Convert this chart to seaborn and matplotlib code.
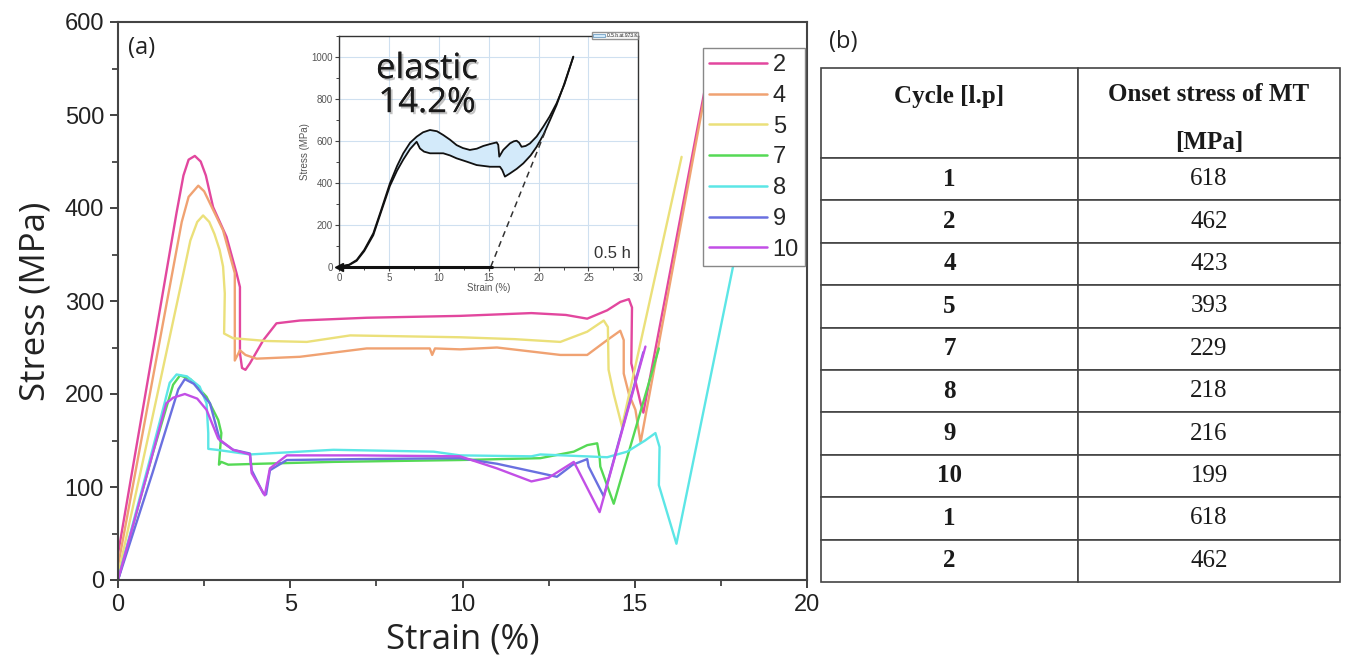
import numpy as np
import pandas as pd
import matplotlib
matplotlib.use('Agg')
import matplotlib.pyplot as plt
import seaborn as sns
from matplotlib.ticker import MultipleLocator
from matplotlib.patches import Patch
import matplotlib.patheffects as pe

# ---------------- data: main chart (a) ----------------
cycles = ['2', '4', '5', '7', '8', '9', '10']

strain_c2 = [0, 1.0, 1.7, 1.9, 2.05, 2.23, 2.4, 2.55, 2.76, 3.15, 3.44, 3.54, 3.54, 3.6, 3.7, 3.83,
             4.22, 4.6, 5.28, 7.22, 9.93, 12.0, 13.0, 13.62, 14.2, 14.58, 14.83, 14.92, 14.9, 15.17,
             15.25, 17.2]
stress_c2 = [28, 244, 395, 435, 452, 456, 450, 435, 401, 369, 330, 315, 244, 228, 226, 233,
             258, 276, 279, 282, 284, 287, 285, 281, 290, 299, 302, 293, 233, 190,
             180, 560]

strain_c4 = [0, 1.0, 1.85, 2.05, 2.33, 2.5, 2.67, 3.05, 3.39, 3.39, 3.54, 3.7, 4.02, 5.28, 7.22,
             9.05, 9.12, 9.2, 9.93, 11.0, 12.84, 13.62, 14.2, 14.58, 14.68, 14.68, 14.83, 15.02,
             15.17, 17.2]
stress_c4 = [15, 215, 385, 412, 424, 418, 405, 376, 330, 236, 247, 242, 238, 240, 249,
             249, 242, 249, 248, 250, 242, 242, 258, 268, 258, 222, 200, 183,
             148, 555]

strain_c5 = [0, 1.0, 1.9, 2.1, 2.3, 2.47, 2.65, 2.8, 2.95, 3.05, 3.1, 3.08, 3.34, 4.31, 5.48, 6.74,
             9.93, 11.5, 12.84, 13.62, 14.1, 14.22, 14.24, 14.39, 14.63, 16.36]
stress_c5 = [5, 175, 330, 365, 385, 392, 385, 372, 355, 337, 308, 265, 260, 257, 256, 263,
             261, 259, 256, 267, 279, 272, 226, 200, 165, 455]

strain_c7 = [0, 1.0, 1.4, 1.6, 1.8, 2.1, 2.57, 2.91, 3.0, 2.93, 3.0, 3.2, 4.12, 6.25, 9.93, 12.26,
             13.23, 13.62, 13.91, 13.98, 14.0, 14.39, 15.7]
stress_c7 = [0, 135, 185, 210, 220, 216, 197, 172, 158, 124, 127, 124, 125, 127, 129, 131,
             138, 145, 147, 132, 122, 82, 249]

strain_c8 = [0, 1.0, 1.35, 1.5, 1.7, 2.0, 2.37, 2.57, 2.62, 2.62, 2.86, 3.83, 6.25, 9.16, 9.93,
             12.0, 12.26, 14.2, 14.78, 15.3, 15.6, 15.72, 15.7, 16.21, 18.2]
stress_c8 = [0, 140, 190, 212, 221, 219, 208, 190, 158, 141, 140, 135, 140, 138, 134,
             133, 135, 132, 138, 150, 158, 143, 102, 39, 400]

strain_c9 = [0, 1.0, 1.5, 1.75, 1.94, 2.2, 2.67, 2.96, 3.34, 3.83, 3.88, 4.22, 4.3, 4.41, 4.9, 7.0,
             9.93, 11.0, 12.0, 12.74, 13.2, 13.62, 13.66, 14.1, 15.25]
stress_c9 = [0, 115, 175, 205, 216, 211, 190, 150, 140, 136, 118, 93, 92, 118, 129, 130,
             131, 125, 117, 111, 124, 130, 122, 90, 245]

strain_c10 = [0, 1.0, 1.4, 1.6, 1.94, 2.3, 2.57, 2.91, 3.34, 3.83, 3.88, 4.26, 4.41, 4.9, 7.0,
              9.93, 11.0, 12.0, 12.5, 13.23, 13.33, 13.98, 15.31]
stress_c10 = [0, 135, 190, 196, 200, 195, 183, 152, 140, 135, 115, 91, 120, 134, 134,
              133, 120, 106, 110, 127, 120, 73, 251]

strains = [strain_c2, strain_c4, strain_c5, strain_c7, strain_c8, strain_c9, strain_c10]
stresses = [stress_c2, stress_c4, stress_c5, stress_c7, stress_c8, stress_c9, stress_c10]

colors = ['#e2479e', '#f0a272', '#ebe07a', '#55d955', '#5ce6e6', '#6a70e0', '#c24fe6']

# ---------------- data: inset ----------------
inset_up_x = [0, 1, 1.74, 2.5, 3.41, 4.2, 5.08, 5.8, 6.42, 7.1, 7.76, 8.4, 9.1, 9.8, 10.43, 11.1,
              11.77, 12.4, 13.1, 13.8, 14.45, 15.2, 15.79, 15.95, 16.05, 16.45, 17.12, 17.5, 17.79,
              18.05, 18.29, 18.7, 19.13, 19.8, 20.47, 21.1, 21.8, 22.6, 23.48]
inset_up_y = [0, 10, 32, 80, 159, 270, 397, 480, 540, 590, 619, 640, 651, 645, 627, 605,
              579, 565, 556, 562, 575, 585, 592, 580, 524, 556, 587, 597, 600,
              590, 571, 575, 587, 620, 667, 715, 778, 870, 1000]
inset_lo_x = [0, 1, 1.74, 2.5, 3.41, 4.2, 5.08, 5.8, 6.42, 7.1, 7.76, 8.09, 8.5, 9.1, 10.43, 11.1,
              11.77, 12.8, 13.78, 15.12, 16.12, 16.35, 16.62, 17.12, 17.8, 18.46, 19.2, 19.8, 20.5,
              21.14, 21.8, 22.47, 23.48]
inset_lo_y = [0, 8, 28, 74, 150, 262, 385, 458, 510, 560, 595, 563, 548, 540, 540, 530, 516,
              500, 484, 476, 476, 460, 429, 444, 466, 492, 530, 571, 630, 698,
              770, 857, 1000]
inset_dash_x = [15.2, 20.8]
inset_dash_y = [0, 660]
inset_base_x = [0, 15.3]
inset_base_y = [0, 0]

# ---------------- data: table (b) ----------------
table_header = ['Cycle [l.p]', 'Onset stress of MT\n[MPa]']
table_cycles = ['1', '2', '4', '5', '7', '8', '9', '10', '1', '2']
table_onset = ['618', '462', '423', '393', '229', '218', '216', '199', '618', '462']

# ---------------- figure ----------------
sns.set_style('white')
plt.rcParams['font.family'] = ['Liberation Sans', 'DejaVu Sans']

W, H = 1346, 657
fig = plt.figure(figsize=(W / 100, H / 100), dpi=100)
fig.patch.set_facecolor('white')


def box(x0, y0, x1, y1):
    return [x0 / W, 1 - y1 / H, (x1 - x0) / W, (y1 - y0) / H]


ax = fig.add_axes(box(118, 22, 807, 580))
frames = [pd.DataFrame({'Strain': xs, 'Stress': ys, 'Cycle': c})
          for c, xs, ys in zip(cycles, strains, stresses)]
df = pd.concat(frames, ignore_index=True)
sns.lineplot(data=df, x='Strain', y='Stress', hue='Cycle', hue_order=cycles,
             palette=dict(zip(cycles, colors)), sort=False, estimator=None,
             lw=1.7, ax=ax)

ax.set_xlim(0, 20)
ax.set_ylim(0, 600)
ax.xaxis.set_major_locator(MultipleLocator(5))
ax.xaxis.set_minor_locator(MultipleLocator(2.5))
ax.yaxis.set_major_locator(MultipleLocator(100))
ax.yaxis.set_minor_locator(MultipleLocator(50))
ax.tick_params(which='both', bottom=True, left=True, top=False, right=False, direction='out')
ax.tick_params(which='major', length=6, width=1.3, color='#333', labelcolor='#222',
               labelsize=17, pad=4)
ax.tick_params(which='minor', length=4, width=1.2, color='#333')
for s in ax.spines.values():
    s.set_color('#444')
    s.set_linewidth(1.5)
ax.set_xlabel('Strain (%)', fontsize=25, family='Open Sans', color='#222', labelpad=5)
ax.set_ylabel('Stress (MPa)', fontsize=25, family='Open Sans', color='#222', labelpad=9)
ax.text(0.0145, 0.953, '(a)', transform=ax.transAxes, fontsize=17, family='Open Sans',
        va='center', ha='left', color='#222')

leg = ax.get_legend()
handles = leg.legend_handles
labels = [t.get_text() for t in leg.get_texts()]
leg.remove()
lg = ax.legend(handles, labels, loc='upper left', bbox_to_anchor=(0.849, 0.953),
               frameon=True, fancybox=False, edgecolor='#888', framealpha=1,
               prop={'family': 'Liberation Sans', 'size': 17}, handlelength=2.45,
               handletextpad=0.25, labelspacing=0.37, borderpad=0.25, borderaxespad=0)
for h in lg.legend_handles:
    h.set_linewidth(1.8)
lg.get_frame().set_linewidth(1.0)

# ---------------- inset ----------------
axi = fig.add_axes(box(339.3, 35.7, 638.3, 266.7))
axi.fill(np.r_[inset_up_x, inset_lo_x[::-1]], np.r_[inset_up_y, inset_lo_y[::-1]],
         color='#d3eafa', lw=0, zorder=1)
sns.lineplot(x=inset_up_x, y=inset_up_y, sort=False, estimator=None, color='#111', lw=1.3,
             ax=axi, zorder=3)
sns.lineplot(x=inset_lo_x, y=inset_lo_y, sort=False, estimator=None, color='#111', lw=1.3,
             ax=axi, zorder=3)
sns.lineplot(x=inset_dash_x, y=inset_dash_y, sort=False, estimator=None, color='#333', lw=1.1,
             ls=(0, (4, 3)), ax=axi, zorder=3)
axi.plot(inset_base_x, inset_base_y, color='#111', lw=2.2, clip_on=False, zorder=4)
axi.plot([inset_base_x[0]], [inset_base_y[0]], marker='<', color='#111', ms=6, clip_on=False,
         zorder=5)
axi.set_xlim(0, 30)
axi.set_ylim(0, 1100)
axi.xaxis.set_major_locator(MultipleLocator(5))
axi.xaxis.set_minor_locator(MultipleLocator(2.5))
axi.yaxis.set_major_locator(MultipleLocator(200))
axi.yaxis.set_minor_locator(MultipleLocator(100))
axi.tick_params(which='both', bottom=True, left=True, direction='out', color='#444')
axi.tick_params(which='major', length=3, width=0.8, labelsize=7, labelcolor='#555', pad=1.5)
axi.tick_params(which='minor', length=2, width=0.7)
axi.grid(True, which='major', color='#cfe0f0', lw=0.8)
axi.set_axisbelow(True)
for s in axi.spines.values():
    s.set_color('#333')
    s.set_linewidth(1.0)
axi.set_xlabel('Strain (%)', fontsize=7, color='#555', labelpad=0)
axi.set_ylabel('Stress (MPa)', fontsize=7, color='#555', labelpad=1)
axi.text(8.8, 860, 'elastic\n14.2%', ha='center', va='center', fontsize=25, family='Open Sans',
         color='#1a1a1a', linespacing=1.0, zorder=6,
         path_effects=[pe.withSimplePatchShadow(offset=(1.5, -1.5), shadow_rgbFace='#888',
                                                alpha=0.5), pe.Normal()])
axi.text(27.4, 65, '0.5 h', ha='center', va='center', fontsize=12, color='#333', zorder=6)
axi.legend(handles=[Patch(facecolor='#d3eafa', edgecolor='#5a8fb8', lw=0.5)],
           labels=['0.5 h at 973 K'], loc='lower right', bbox_to_anchor=(1.0, 0.985),
           fontsize=3.5, frameon=True, fancybox=False, edgecolor='#777', borderpad=0.2,
           handlelength=2.5, handleheight=0.8, handletextpad=0.3, borderaxespad=0)

# ---------------- table (b) ----------------
fig.text(829 / W, 1 - 42 / H, '(b)', fontsize=17, family='Open Sans', va='center', ha='left',
         color='#222')
axt = fig.add_axes(box(821, 68, 1340, 582))
axt.axis('off')
tab = axt.table(cellText=[[c, v] for c, v in zip(table_cycles, table_onset)],
                colLabels=['', ''], cellLoc='center', bbox=[0, 0, 1, 1])
tab.auto_set_font_size(False)
for (r, c), cell in tab.get_celld().items():
    cell.set_edgecolor('#444')
    cell.set_linewidth(1.2)
    cell.set_height(90 if r == 0 else 42.4)
    cell.set_width(257 if c == 0 else 262)
    txt = cell.get_text()
    txt.set_fontfamily('Liberation Serif')
    txt.set_fontsize(18)
    txt.set_color('#1a1a1a')
    if c == 0:
        txt.set_fontweight('bold')

# header texts (placed to match the reference's top-heavy header layout)
col_w = [257, 262]
col0_cx = col_w[0] / 2 / sum(col_w)
col1_cx = (col_w[0] + col_w[1] / 2) / sum(col_w)
axt.text(col0_cx, (582 - 97) / 514, table_header[0], transform=axt.transAxes, ha='center',
         va='center', fontsize=18, fontweight='bold', family='Liberation Serif', color='#1a1a1a')
axt.text(col1_cx, (582 - 118.5) / 514, table_header[1], transform=axt.transAxes, ha='center',
         va='center', fontsize=18, fontweight='bold', family='Liberation Serif', color='#1a1a1a',
         linespacing=2.35)

fig.savefig('out.png', dpi=100, facecolor='white')
